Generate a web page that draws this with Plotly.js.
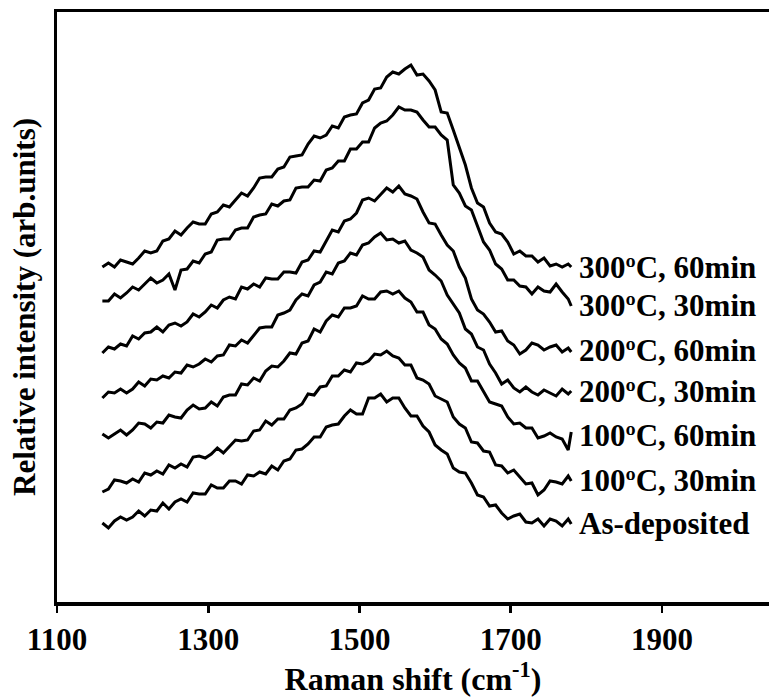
<!DOCTYPE html>
<html>
<head>
<meta charset="utf-8">
<script src="https://cdn.plot.ly/plotly-3.0.1.min.js"></script>
<style>html,body{margin:0;padding:0;background:#fff;}#chart{width:769px;height:697px;}</style>
</head>
<body>
<div id="chart"></div>
<script>
// Raman shift (cm-1)
const ramanShift = [1160,1168,1176,1184,1192,1200,1208,1216,1224,1232,
1240,1248,1256,1264,1272,1280,1288,1296,1304,1312,
1320,1328,1336,1344,1352,1360,1368,1376,1384,1392,
1400,1408,1416,1424,1432,1440,1448,1456,1464,1472,
1480,1488,1496,1504,1512,1520,1528,1536,1544,1552,
1560,1568,1576,1584,1592,1600,1608,1616,1624,1632,
1640,1648,1656,1664,1672,1680,1688,1696,1704,1712,
1720,1728,1736,1744,1752,1760,1768,1776,1780];

// Relative intensity (arb. units), stacked spectra
const s300_60 = [335,339,335,342,340,338,344,351,349,351,
361,363,371,367,374,380,378,378,388,390,
397,395,402,409,406,414,424,425,425,433,
435,445,446,447,458,466,464,467,476,474,
485,487,488,499,502,513,514,525,530,528,
533,537,527,528,521,512,490,489,472,454,
437,414,399,395,379,370,368,360,348,351,
346,346,340,344,336,338,335,338,335];
const s300_30 = [301,301,308,304,309,315,312,318,324,319,
322,328,312,332,333,341,339,348,350,362,
363,363,372,374,374,385,387,388,398,396,
401,402,414,415,415,422,421,432,434,441,
441,453,453,460,460,474,479,481,487,495,
492,492,490,482,475,475,467,462,417,409,
396,392,375,360,352,338,333,322,322,316,
315,308,315,311,310,318,310,303,296];
const s200_60 = [249,255,253,258,256,266,263,269,270,275,
270,277,279,276,280,288,285,290,297,294,
302,305,303,315,313,318,315,324,323,323,
330,330,329,340,342,351,350,361,372,370,
381,383,389,402,404,401,407,414,410,416,
408,406,403,390,379,378,367,357,351,335,
324,303,292,288,280,270,271,261,257,248,
252,259,257,252,255,257,250,254,250];
const s200_30 = [204,210,209,213,209,213,220,216,223,222,
226,224,230,229,237,235,238,243,240,246,
247,257,256,262,259,266,274,275,275,287,
289,292,302,308,306,317,320,330,328,339,
341,349,347,357,359,365,369,362,363,359,
361,352,349,345,332,327,321,307,298,289,
273,268,255,252,238,229,218,222,214,210,
215,210,207,212,209,206,213,208,211];
const s100_60 = [168,164,168,172,167,172,179,178,174,180,
179,187,185,184,192,197,193,194,200,196,
205,207,207,218,217,224,221,231,236,235,
241,249,248,259,261,273,270,281,287,285,
294,294,296,306,303,303,310,311,308,311,
304,300,290,290,277,273,263,258,247,239,
234,221,221,211,200,198,196,185,178,179,
174,174,164,166,169,165,163,152,170];
const s100_30 = [110,113,122,121,119,123,120,129,127,131,
128,137,134,138,135,145,146,144,148,154,
149,156,162,161,162,171,172,181,177,183,
183,192,194,198,208,207,215,216,226,226,
232,230,239,238,241,248,247,251,246,244,
237,237,224,222,218,206,203,200,185,178,
174,160,159,151,150,137,136,129,132,125,
118,119,107,112,121,120,118,126,121];
const sAsDep = [79,74,81,85,82,85,91,86,92,91,
99,93,100,103,100,109,108,108,117,114,
114,121,121,118,127,126,130,128,136,132,
141,143,152,153,158,165,165,175,177,178,
186,192,188,188,204,204,208,200,204,204,
194,186,186,176,170,157,152,148,134,130,
129,119,107,105,96,97,89,83,86,88,
80,79,83,76,83,81,76,83,78];

const seriesNames = ["300\u00baC, 60min","300\u00baC, 30min","200\u00baC, 60min","200\u00baC, 30min","100\u00baC, 60min","100\u00baC, 30min","As-deposited"];
const seriesValues = [s300_60, s300_30, s200_60, s200_30, s100_60, s100_30, sAsDep];
const labelLevels = [335, 297, 252, 211, 167, 122, 79];
const xTickValues = [1100,1300,1500,1700,1900];

const FONT = 'Liberation Serif, Times New Roman, serif';

const traces = seriesValues.map((vals, k) => ({
  x: ramanShift, y: vals, type: 'scatter', mode: 'lines', name: seriesNames[k],
  line: {color: '#000', width: 3}, hoverinfo: 'skip'
}));

const annotations = seriesNames.map((name, k) => ({
  x: 1788, y: labelLevels[k], xref: 'x', yref: 'y',
  text: name, showarrow: false, xanchor: 'left', yanchor: 'middle',
  font: {family: FONT, size: 31, color: '#000', weight: 700}
}));

const layout = {
  width: 769, height: 697,
  margin: {l: 57, r: 0, t: 12, b: 95, pad: 0},
  paper_bgcolor: '#fff', plot_bgcolor: '#fff',
  showlegend: false,
  xaxis: {
    range: [1100, 2041.5], tickmode: 'array', tickvals: xTickValues,
    ticks: 'outside', ticklen: 7, tickwidth: 2.5, tickcolor: '#000',
    showline: true, linewidth: 3.5, linecolor: '#000', mirror: true,
    showgrid: false, zeroline: false,
    tickfont: {family: FONT, size: 31, color: '#000', weight: 700},
    title: {text: 'Raman shift (cm<sup>-1</sup>)', standoff: 12,
      font: {family: FONT, size: 32, color: '#000', weight: 700}},
    automargin: true
  },
  yaxis: {
    range: [0, 590], showticklabels: false, ticks: '',
    showline: true, linewidth: 3, linecolor: '#000', mirror: false,
    showgrid: false, zeroline: false,
    title: {text: 'Relative intensity (arb.units)', standoff: 10,
      font: {family: FONT, size: 31, color: '#000', weight: 700}},
    automargin: false
  },
  annotations: annotations
};

Plotly.newPlot('chart', traces, layout, {displayModeBar: false, staticPlot: true});
</script>
</body>
</html>
